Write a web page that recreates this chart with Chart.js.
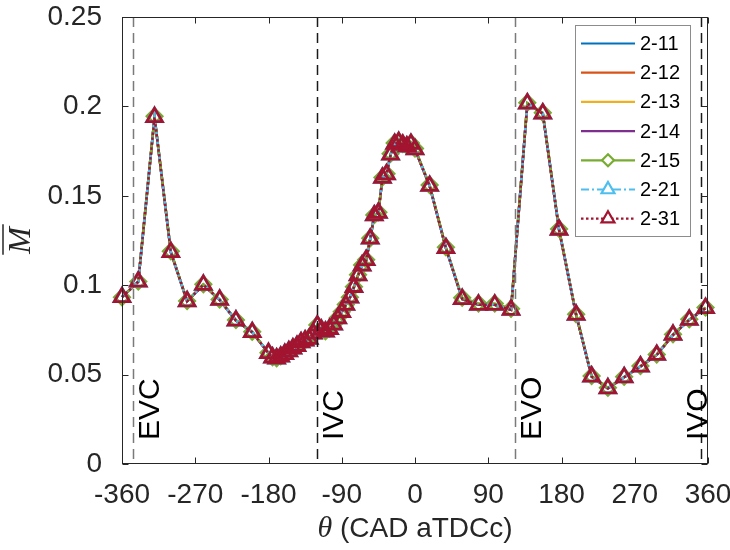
<!DOCTYPE html>
<html>
<head>
<meta charset="utf-8">
<script src="https://cdn.jsdelivr.net/npm/chart.js@4.4.0/dist/chart.umd.min.js"></script>
<style>
  html, body { margin: 0; padding: 0; background: #fff; }
  #wrap { width: 730px; height: 550px; }
</style>
</head>
<body>
<div id="wrap"><canvas id="chart" width="730" height="550"></canvas></div>
<script>
// crank angle of every sample (CAD aTDCc)
const angles = [
  -360, -340, -320, -300, -280, -260, -240, -220, -200, -180,
  -175, -170, -165, -160, -155, -150, -145, -140, -135, -130, -125, -120,
  -115, -110, -105, -100, -95, -90, -85, -80, -75, -70, -65, -60,
  -55, -50, -45, -40, -35, -30, -25, -20, -15, -10, -5, 0,
  18, 38, 58, 78, 98, 118, 138, 157, 177, 198, 217, 237, 257, 277, 297, 317, 337, 357
];

// mean M, all runs sit on top of each other
const mBase = [
  0.0933, 0.1020, 0.1940, 0.1185, 0.0910, 0.1002, 0.0918, 0.0802, 0.0737, 0.0620,
  0.0595, 0.0590, 0.0600, 0.0615, 0.0630, 0.0645, 0.0660, 0.0680, 0.0690, 0.0700, 0.0730, 0.0775,
  0.0750, 0.0740, 0.0755, 0.0780, 0.0815, 0.0850, 0.0890, 0.0930, 0.0990, 0.1055, 0.1110, 0.1140,
  0.1260, 0.1390, 0.1405, 0.1600, 0.1620, 0.1730, 0.1790, 0.1800, 0.1785, 0.1775, 0.1790, 0.1760,
  0.1555, 0.1207, 0.0922, 0.0890, 0.0890, 0.0862, 0.2016, 0.1960, 0.1310, 0.0834, 0.0489, 0.0423,
  0.0485, 0.0545, 0.0610, 0.0722, 0.0806, 0.0872
];
// 2-15 sits a hair higher in places
const m215 = [
  0.0933, 0.1020, 0.1945, 0.1190, 0.0912, 0.1005, 0.0920, 0.0805, 0.0740, 0.0622,
  0.0597, 0.0592, 0.0602, 0.0617, 0.0632, 0.0647, 0.0662, 0.0682, 0.0692, 0.0702, 0.0732, 0.0778,
  0.0752, 0.0742, 0.0757, 0.0782, 0.0817, 0.0852, 0.0892, 0.0932, 0.0992, 0.1058, 0.1113, 0.1143,
  0.1263, 0.1393, 0.1408, 0.1603, 0.1623, 0.1735, 0.1795, 0.1805, 0.1790, 0.1780, 0.1795, 0.1765,
  0.1560, 0.1212, 0.0930, 0.0898, 0.0898, 0.0868, 0.2020, 0.1965, 0.1315, 0.0838, 0.0492, 0.0426,
  0.0488, 0.0548, 0.0613, 0.0725, 0.0809, 0.0875
];

const seriesNames = ['2-11', '2-12', '2-13', '2-14', '2-15', '2-21', '2-31'];
const seriesValues = [mBase, mBase, mBase, mBase, m215, mBase, mBase];

const xTicks = [-360, -270, -180, -90, 0, 90, 180, 270, 360];
const yTicks = [0, 0.05, 0.1, 0.15, 0.2, 0.25];

const eventAngles = [-347, -120, 123, 352];
const eventLabels = ['EVC', 'IVC', 'EVO', 'IVO'];

// styles
const lineColors = ['#0072BD', '#D95319', '#EDB120', '#7E2F8E', '#77AC30', '#4DBEEE', '#A2142F'];
const markers = [false, false, false, false, 'rectRot', 'triangle', 'triangle'];
const markerRadius = [0, 0, 0, 0, 7.5, 9, 9];
const dashes = [[], [], [], [], [], [8, 3, 2, 3], [2.5, 2.5]];
const eventColors = ['#7a7a7a', '#1a1a1a', '#7a7a7a', '#1a1a1a'];

const SANS = '"Liberation Sans", Arial, sans-serif';
const SERIF = '"Liberation Serif", "Times New Roman", serif';
const AXIS = '#262626';

// later series are drawn on top, like the plotting order
const datasets = seriesNames.map((name, s) => ({
  label: name,
  data: angles.map((a, i) => ({ x: a, y: seriesValues[s][i] })),
  order: seriesNames.length - s,
  borderColor: lineColors[s],
  borderWidth: 2.5,
  borderDash: dashes[s],
  borderCapStyle: 'butt',
  pointStyle: markers[s] || 'circle',
  pointRadius: markerRadius[s],
  pointBorderWidth: 2.8,
  pointBorderColor: lineColors[s],
  pointBackgroundColor: 'rgba(0,0,0,0)',
  tension: 0,
  clip: false
}));

const frame = {
  id: 'frame',
  afterDatasetsDraw(chart) {
    const { ctx, chartArea: a, scales: { x } } = chart;
    ctx.save();
    eventAngles.forEach((ang, i) => {
      const px = Math.round(x.getPixelForValue(ang)) + 0.5;
      ctx.strokeStyle = eventColors[i];
      ctx.lineWidth = 1.5;
      ctx.setLineDash([10, 6]);
      ctx.beginPath();
      ctx.moveTo(px, a.top);
      ctx.lineTo(px, a.bottom);
      ctx.stroke();
      // rotated label on the right of the line, kept inside the axes
      ctx.setLineDash([]);
      ctx.font = '30px ' + SANS;
      ctx.fillStyle = '#000';
      ctx.textAlign = 'left';
      ctx.textBaseline = 'alphabetic';
      const bx = Math.min(px + 25, a.right - 1);
      ctx.save();
      ctx.translate(bx, 440);
      ctx.rotate(-Math.PI / 2);
      ctx.fillText(eventLabels[i], 0, 0);
      ctx.restore();
    });
    ctx.restore();
  },
  afterDraw(chart) {
    const { ctx, chartArea: a, scales: { x, y } } = chart;
    ctx.save();
    // axes box
    ctx.strokeStyle = AXIS;
    ctx.lineWidth = 1;
    ctx.setLineDash([]);
    const L = Math.round(a.left) + 0.5, R = Math.round(a.right) - 0.5;
    const T = Math.round(a.top) + 0.5, B = Math.round(a.bottom) - 0.5;
    ctx.strokeRect(L, T, R - L, B - T);
    // inward ticks on all four sides
    ctx.beginPath();
    xTicks.forEach(v => {
      const px = Math.round(x.getPixelForValue(v)) + 0.5;
      ctx.moveTo(px, B); ctx.lineTo(px, B - 6);
      ctx.moveTo(px, T); ctx.lineTo(px, T + 6);
    });
    yTicks.forEach(v => {
      const py = Math.round(y.getPixelForValue(v)) + 0.5;
      ctx.moveTo(L, py); ctx.lineTo(L + 6, py);
      ctx.moveTo(R, py); ctx.lineTo(R - 6, py);
    });
    ctx.stroke();

    // legend
    const lx = 575.5, ly = 25.5, lw = 115, lh = 211;
    ctx.fillStyle = '#fff';
    ctx.fillRect(lx, ly, lw, lh);
    ctx.strokeStyle = '#8c8c8c';
    ctx.lineWidth = 1;
    ctx.strokeRect(lx, ly, lw, lh);
    seriesNames.forEach((name, s) => {
      const ry = 43.5 + s * 29.2;
      ctx.strokeStyle = lineColors[s];
      ctx.lineWidth = 2.2;
      ctx.lineCap = 'butt';
      ctx.setLineDash(dashes[s]);
      ctx.beginPath();
      ctx.moveTo(581, ry);
      ctx.lineTo(635, ry);
      ctx.stroke();
      ctx.setLineDash([]);
      if (markers[s]) {
        ctx.fillStyle = '#fff';
        ctx.strokeStyle = lineColors[s];
        Chart.helpers.drawPoint(ctx, {
          pointStyle: markers[s], rotation: 0,
          radius: markerRadius[s] - 1.5, borderWidth: 2.4
        }, 608, ry);
      }
      ctx.fillStyle = '#000';
      ctx.font = '20px ' + SANS;
      ctx.textAlign = 'left';
      ctx.textBaseline = 'middle';
      ctx.fillText(name, 640, ry + 1);
    });

    // x axis title
    ctx.fillStyle = AXIS;
    ctx.textBaseline = 'middle';
    ctx.textAlign = 'left';
    ctx.font = 'italic 30px ' + SERIF;
    const wTh = ctx.measureText('\u03B8').width;
    ctx.font = '28px ' + SANS;
    const rest = ' (CAD aTDCc)';
    const wRest = ctx.measureText(rest).width;
    const cx = (a.left + a.right) / 2;
    const tx = cx - (wTh + wRest) / 2;
    ctx.font = 'italic 30px ' + SERIF;
    ctx.fillText('\u03B8', tx, 529);
    ctx.font = '28px ' + SANS;
    ctx.fillText(rest, tx + wTh, 529);

    // y axis title: M with an overline, rotated
    ctx.save();
    ctx.translate(30, (a.top + a.bottom) / 2);
    ctx.rotate(-Math.PI / 2);
    ctx.font = 'italic 32px ' + SERIF;
    ctx.textAlign = 'center';
    ctx.textBaseline = 'alphabetic';
    const wM = ctx.measureText('M').width;
    ctx.fillText('M', 0, 0);
    ctx.strokeStyle = AXIS;
    ctx.lineWidth = 1.5;
    ctx.beginPath();
    ctx.moveTo(-wM / 2 - 1, -27);
    ctx.lineTo(wM / 2 + 3, -27);
    ctx.stroke();
    ctx.restore();

    ctx.restore();
  }
};

new Chart(document.getElementById('chart'), {
  type: 'line',
  data: { datasets },
  options: {
    responsive: false,
    animation: false,
    layout: { padding: { top: 17, right: 22, left: 0, bottom: 0 } },
    plugins: { legend: { display: false }, tooltip: { enabled: false } },
    scales: {
      x: {
        type: 'linear',
        min: -360, max: 360,
        grid: { display: false },
        border: { display: false },
        afterBuildTicks: s => { s.ticks = xTicks.map(v => ({ value: v })); },
        afterFit: s => { s.height = 86; s.paddingLeft = 0; s.paddingRight = 0; },
        ticks: {
          autoSkip: false, maxRotation: 0, padding: 6,
          color: AXIS, font: { family: SANS, size: 28 },
          callback: v => String(v)
        }
      },
      y: {
        min: 0, max: 0.25,
        grid: { display: false },
        border: { display: false },
        afterBuildTicks: s => { s.ticks = yTicks.map(v => ({ value: v })); },
        afterFit: s => { s.width = 122; s.paddingTop = 0; s.paddingBottom = 0; },
        ticks: {
          padding: 12,
          color: AXIS, font: { family: SANS, size: 28 },
          callback: v => String(+v.toFixed(2))
        }
      }
    }
  },
  plugins: [frame]
});
</script>
</body>
</html>
